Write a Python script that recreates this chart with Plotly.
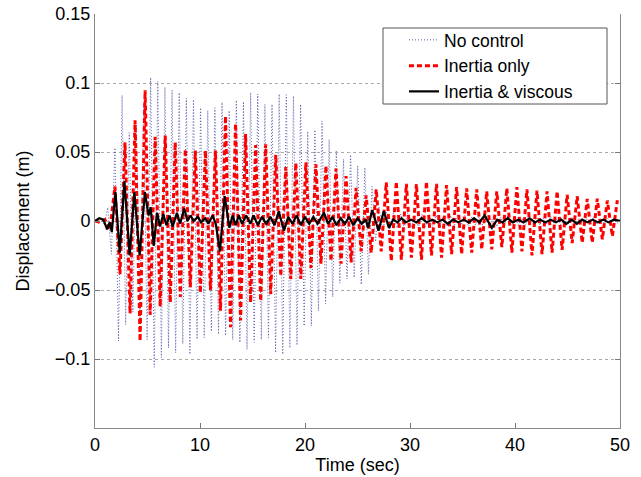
import plotly.graph_objects as go

# ---------------- data ----------------
# No control: alternating peaks (tops / bottoms), period ~0.68 s
blue_top_t0, blue_bot_t0, blue_period = 0.54, 0.88, 0.68
blue_tops = [0.002, 0.0097, 0.053, 0.091, 0.064, 0.070, 0.085, 0.104, 0.101, 0.097,
             0.095, 0.093, 0.089, 0.088, 0.082, 0.080, 0.082, 0.086, 0.080, 0.0875,
             0.0865, 0.093, 0.092, 0.0845, 0.0845, 0.092, 0.0915, 0.0905, 0.0845, 0.065,
             0.066, 0.0725, 0.059, 0.0507, 0.0447, 0.048, 0.040, 0.0386, 0.025, 0.010,
             0.007, 0.006, 0.005, 0.006, 0.004, 0.005, 0.004, 0.004, 0.003, 0.004,
             0.005, 0.004, 0.003, 0.003, 0.004, 0.003, 0.003, 0.004, 0.003, 0.002,
             0.003, 0.003, 0.002, 0.003, 0.002, 0.002, 0.003, 0.002, 0.002, 0.002,
             0.002, 0.002, 0.002]
blue_bots = [-0.003, -0.024, -0.087, -0.075, -0.066, -0.070, -0.086, -0.106, -0.099, -0.092,
             -0.0954, -0.089, -0.0966, -0.0857, -0.0845, -0.080, -0.082, -0.083, -0.086, -0.088,
             -0.093, -0.088, -0.086, -0.0845, -0.0954, -0.0966, -0.092, -0.090, -0.076, -0.076,
             -0.065, -0.060, -0.055, -0.045, -0.042, -0.041, -0.046, -0.0386, -0.015, -0.008,
             -0.006, -0.005, -0.005, -0.004, -0.005, -0.004, -0.004, -0.003, -0.004, -0.004,
             -0.003, -0.004, -0.003, -0.003, -0.003, -0.004, -0.003, -0.002, -0.003, -0.003,
             -0.002, -0.003, -0.002, -0.002, -0.003, -0.002, -0.002, -0.002, -0.002, -0.002,
             -0.002, -0.002, -0.002]

# Inertia only: alternating peaks, period ~0.957 s
red_top_t0, red_bot_t0, red_period = 0.943, 0.466, 0.957
red_tops = [0.001, 0.025, 0.057, 0.073, 0.0947, 0.061, 0.062, 0.057, 0.052, 0.051,
            0.051, 0.051, 0.076, 0.0705, 0.063, 0.055, 0.0555, 0.048, 0.039, 0.042,
            0.0425, 0.041, 0.040, 0.038, 0.0326, 0.024, 0.0186, 0.023, 0.028, 0.0285,
            0.027, 0.0268, 0.0285, 0.027, 0.026, 0.0246, 0.0237, 0.023, 0.0215, 0.0215,
            0.0237, 0.0246, 0.023, 0.022, 0.0215, 0.0215, 0.019, 0.018, 0.016, 0.0162,
            0.0148, 0.015]
red_bots = [-0.001, -0.006, -0.0386, -0.067, -0.087, -0.068, -0.062, -0.059, -0.055, -0.048,
            -0.052, -0.050, -0.065, -0.077, -0.072, -0.059, -0.058, -0.053, -0.040, -0.042,
            -0.042, -0.034, -0.031, -0.029, -0.031, -0.030, -0.022, -0.023, -0.022, -0.029,
            -0.028, -0.0266, -0.028, -0.025, -0.0266, -0.024, -0.024, -0.023, -0.0205, -0.0205,
            -0.019, -0.023, -0.022, -0.025, -0.024, -0.023, -0.021, -0.016, -0.0157, -0.0157,
            -0.0133, -0.011]

# Inertia & viscous
black_t = [0, 0.4, 0.8, 1.15, 1.4, 1.6, 1.95, 2.35, 2.8, 3.3,
           3.75, 4.25, 4.75, 5.1, 5.3, 5.6, 5.9, 6.2, 6.5, 6.8,
           7.1, 7.4, 7.8, 8.1, 8.5, 8.8, 9.1, 9.4, 9.8, 10.1,
           10.5, 10.8, 11.2, 11.5, 11.9, 12.35, 12.8, 13.1, 13.4, 13.7,
           14.0, 14.4, 14.8, 15.1, 15.5, 15.9, 16.3, 16.7, 17.1, 17.5,
           18.0, 18.4, 18.8, 19.2, 19.6, 20.0, 20.4, 20.8, 21.2, 21.8,
           22.2, 22.6, 23.0, 23.4, 23.8, 24.2, 24.6, 25.0, 25.4, 25.8,
           26.0, 26.4, 27.0, 27.5, 28.0, 28.4, 28.8, 29.2, 29.6, 30.1,
           30.6, 31.1, 31.6, 32.1, 32.6, 33.1, 33.6, 34.1, 34.6, 35.1,
           35.6, 36.1, 36.6, 37.1, 37.8, 38.3, 38.8, 39.3, 39.8, 40.3,
           40.8, 41.4, 41.9, 42.4, 42.9, 43.4, 43.9, 44.4, 44.9, 45.4,
           45.9, 46.4, 46.9, 47.4, 47.9, 48.4, 48.9, 49.4, 50.0]
black_d = [0, 0.002, 0.001, -0.006, -0.001, -0.008, 0.021, -0.023, 0.029, -0.025,
           0.021, -0.025, 0.021, 0.004, 0.010, -0.018, 0.006, -0.004, 0.005, -0.003,
           0.004, -0.004, 0.006, -0.002, 0.009, 0.000, 0.004, 0.000, 0.003, -0.001,
           0.002, -0.002, 0.004, -0.002, -0.022, 0.018, -0.005, 0.004, -0.003, 0.004,
           -0.002, 0.004, -0.002, 0.004, -0.003, 0.003, -0.002, 0.003, -0.003, 0.007,
           -0.007, 0.003, -0.002, 0.004, -0.003, 0.003, -0.002, 0.003, -0.002, 0.006,
           -0.002, 0.003, -0.003, 0.002, -0.002, 0.003, -0.003, 0.002, -0.002, 0.001,
           -0.005, 0.008, -0.007, 0.007, -0.005, 0.001, -0.001, 0.002, -0.001, 0.001,
           -0.001, 0.002, -0.001, 0.001, -0.001, 0.001, -0.002, 0.001, -0.001, 0.001,
           -0.001, 0.002, -0.001, 0.004, -0.005, 0.001, -0.001, 0.002, -0.001, 0.001,
           -0.001, 0.002, -0.001, 0.001, -0.001, 0.001, -0.001, 0.001, -0.002, 0.001,
           -0.002, 0.001, -0.001, 0.001, -0.001, 0.001, -0.001, 0.001, 0.000]

x_ticks = [0, 10, 20, 30, 40, 50]
y_ticks = [-0.1, -0.05, 0, 0.05, 0.1, 0.15]
y_tick_text = ["\u22120.1", "\u22120.05", "0", "0.05", "0.1", "0.15"]


def merge_peaks(t_top0, t_bot0, period, tops, bots):
    pts = [(0.0, 0.0)]
    pts += [(t_top0 + k * period, v) for k, v in enumerate(tops)]
    pts += [(t_bot0 + k * period, v) for k, v in enumerate(bots)]
    pts = sorted(p for p in pts if p[0] <= 50)
    return [p[0] for p in pts], [p[1] for p in pts]


bt, bd = merge_peaks(blue_top_t0, blue_bot_t0, blue_period, blue_tops, blue_bots)
rt, rd = merge_peaks(red_top_t0, red_bot_t0, red_period, red_tops, red_bots)

FONT = "Liberation Sans, Arial, Helvetica, sans-serif"
W, H = 641, 477
ML, MR, MT, MB = 95, 21, 14, 49
PW, PH = W - ML - MR, H - MT - MB


def px_x(p):
    return (p - ML) / PW


def px_y(p):
    return (H - MB - p) / PH


fig = go.Figure()
fig.add_trace(go.Scatter(x=bt, y=bd, mode="lines", name="No control",
                         line=dict(color="#4a4aa8", width=0.9, dash="1px,2px")))
fig.add_trace(go.Scatter(x=rt, y=rd, mode="lines", name="Inertia only",
                         line=dict(color="#ff0000", width=3, dash="5px,3px")))
fig.add_trace(go.Scatter(x=black_t, y=black_d, mode="lines", name="Inertia & viscous",
                         line=dict(color="#000000", width=2.2)))

# legend frame
fig.add_shape(type="rect", xref="paper", yref="paper", layer="above",
              x0=px_x(383), x1=px_x(607), y0=px_y(104), y1=px_y(28),
              fillcolor="white", line=dict(color="#555", width=1))

fig.update_layout(
    width=W, height=H,
    margin=dict(l=ML, r=MR, t=MT, b=MB),
    plot_bgcolor="white", paper_bgcolor="white",
    font=dict(family=FONT, size=17, color="black"),
    legend=dict(x=px_x(404), y=px_y(22), xanchor="left", yanchor="top",
                bgcolor="rgba(0,0,0,0)", borderwidth=0,
                font=dict(size=17.5), tracegroupgap=0),
    xaxis=dict(range=[0, 50], tickvals=x_ticks, ticks="inside", ticklen=5,
               tickcolor="#777", showline=True, linecolor="#888", linewidth=1,
               showgrid=False, zeroline=False, tickfont=dict(size=18),
               automargin=False,
               title=dict(text="Time (sec)", font=dict(size=18), standoff=4)),
    xaxis2=dict(range=[0, 50], tickvals=x_ticks, ticks="inside", ticklen=5,
                tickcolor="#777", overlaying="x", side="top", showticklabels=False,
                showline=False, showgrid=False, zeroline=False, automargin=False),
    yaxis=dict(range=[-0.15, 0.15], tickvals=y_ticks, ticktext=y_tick_text,
               ticks="inside", ticklen=5, tickcolor="#777", showline=True,
               mirror="ticks", linecolor="#888", linewidth=1,
               showgrid=True, gridcolor="#aaa", griddash="dot", gridwidth=1,
               zeroline=False, tickfont=dict(size=18), automargin=False,
               title=dict(text="Displacement (m)", font=dict(size=18), standoff=10)),
)

fig.write_html("out.html", config={"displayModeBar": False})

# remove the default page margin so the figure sits at the window origin
with open("out.html", "r", encoding="utf-8") as f:
    html = f.read()
html = html.replace("<head>", "<head><style>html,body{margin:0;padding:0;overflow:hidden;}</style>", 1)
with open("out.html", "w", encoding="utf-8") as f:
    f.write(html)
